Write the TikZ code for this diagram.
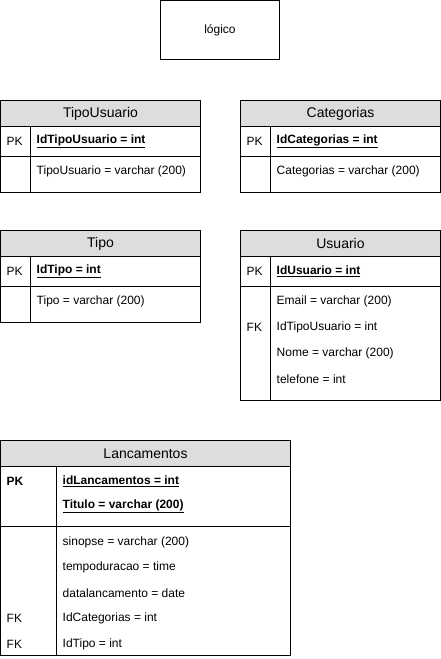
\documentclass[tikz,border=0pt]{standalone}
\usepackage{fontspec}
\setmainfont{Liberation Sans}
\definecolor{hdrgray}{HTML}{DDDDDD}
\newcommand{\pkfield}[1]{\textbf{\underline{#1}}}
\begin{document}
\begin{tikzpicture}[x=1pt, y=-1pt,
    tbl/.style={draw, line width=1pt, anchor=north west, inner sep=0pt, outer sep=0pt, minimum width=200pt},
    hdr/.style={tbl, fill=hdrgray, minimum height=26pt, font=\fontsize{14}{16}\selectfont},
    lbl/.style={anchor=west, inner sep=0pt, font=\fontsize{12}{14}\selectfont}]
    \useasboundingbox (0,0) rectangle (441,659);

    \node[tbl, minimum width=119pt, minimum height=59pt, anchor=north west, font=\fontsize{12}{14}\selectfont] (logico) at (160.5,0.5) {lógico};

    % tabelas simples
    \foreach \n/\x/\y/\t/\k in {tu/0.5/100.5/TipoUsuario/IdTipoUsuario, cat/240.5/100.5/Categorias/IdCategorias, tp/0.5/230.5/Tipo/IdTipo}
    {
    \node[hdr] (\n-head) at (\x,\y) {\t};
    \node[tbl, minimum height=30pt] (\n-pk) at (\n-head.south west) {};
    \node[tbl, minimum height=36pt] (\n-body) at (\n-pk.south west) {};
    \draw[line width=1pt] ([xshift=30pt]\n-pk.north west) -- ([xshift=30pt]\n-body.south west);
    \node[lbl] (\n-key) at ([xshift=6pt]\n-pk.west) {PK};
    \node[lbl] (\n-id) at ([xshift=36pt]\n-pk.west) {\pkfield{\k{} = int}};
    \node[lbl] (\n-f) at ([shift={(36,15)}]\n-body.north west) {\t{} = varchar (200)};
    }

    % Usuario
    \node[hdr] (us-head) at (240.5,230.5) {Usuario};
    \node[tbl, minimum height=30pt] (us-pk) at (us-head.south west) {};
    \node[tbl, minimum height=113.5pt] (us-body) at (us-pk.south west) {};
    \draw[line width=1pt] ([xshift=30pt]us-pk.north west) -- ([xshift=30pt]us-body.south west);
    \node[lbl] (us-key) at ([xshift=6pt]us-pk.west) {PK};
    \node[lbl] (us-id) at ([xshift=36pt]us-pk.west) {\pkfield{IdUsuario = int}};
    \foreach[count=\i from 0] \f in {Email = varchar (200), IdTipoUsuario = int, Nome = varchar (200), telefone = int}
    {
    \node[lbl] (us-f\i) at ([shift={(36,15+26*\i)}]us-body.north west) {\f};
    }
    \node[lbl] (us-fk) at ([shift={(6,41)}]us-body.north west) {FK};

    % Lancamentos
    \node[hdr, minimum width=290pt] (lc-head) at (0.5,440.5) {Lancamentos};
    \node[tbl, minimum width=290pt, minimum height=60pt] (lc-pk) at (lc-head.south west) {};
    \node[tbl, minimum width=290pt, minimum height=128.5pt] (lc-body) at (lc-pk.south west) {};
    \draw[line width=1pt] ([xshift=56pt]lc-pk.north west) -- ([xshift=56pt]lc-body.south west);
    \node[lbl, font=\fontsize{12}{14}\selectfont\bfseries] (lc-key) at ([shift={(6,14.5)}]lc-pk.north west) {PK};
    \node[lbl] (lc-id) at ([shift={(62,14.5)}]lc-pk.north west) {\pkfield{idLancamentos = int}};
    \node[lbl] (lc-tit) at ([shift={(62,40)}]lc-pk.north west) {\pkfield{Titulo = varchar (200)}};
    \foreach[count=\i from 0] \f in {sinopse = varchar (200), tempoduracao = time, datalancamento = date, IdCategorias = int, IdTipo = int}
    {
    \node[lbl] (lc-f\i) at ([shift={(62,15.5+25.5*\i)}]lc-body.north west) {\f};
    }
    \node[lbl] (lc-fk1) at ([shift={(6,92)}]lc-body.north west) {FK};
    \node[lbl] (lc-fk2) at ([shift={(6,117.5)}]lc-body.north west) {FK};
\end{tikzpicture}
\end{document}
